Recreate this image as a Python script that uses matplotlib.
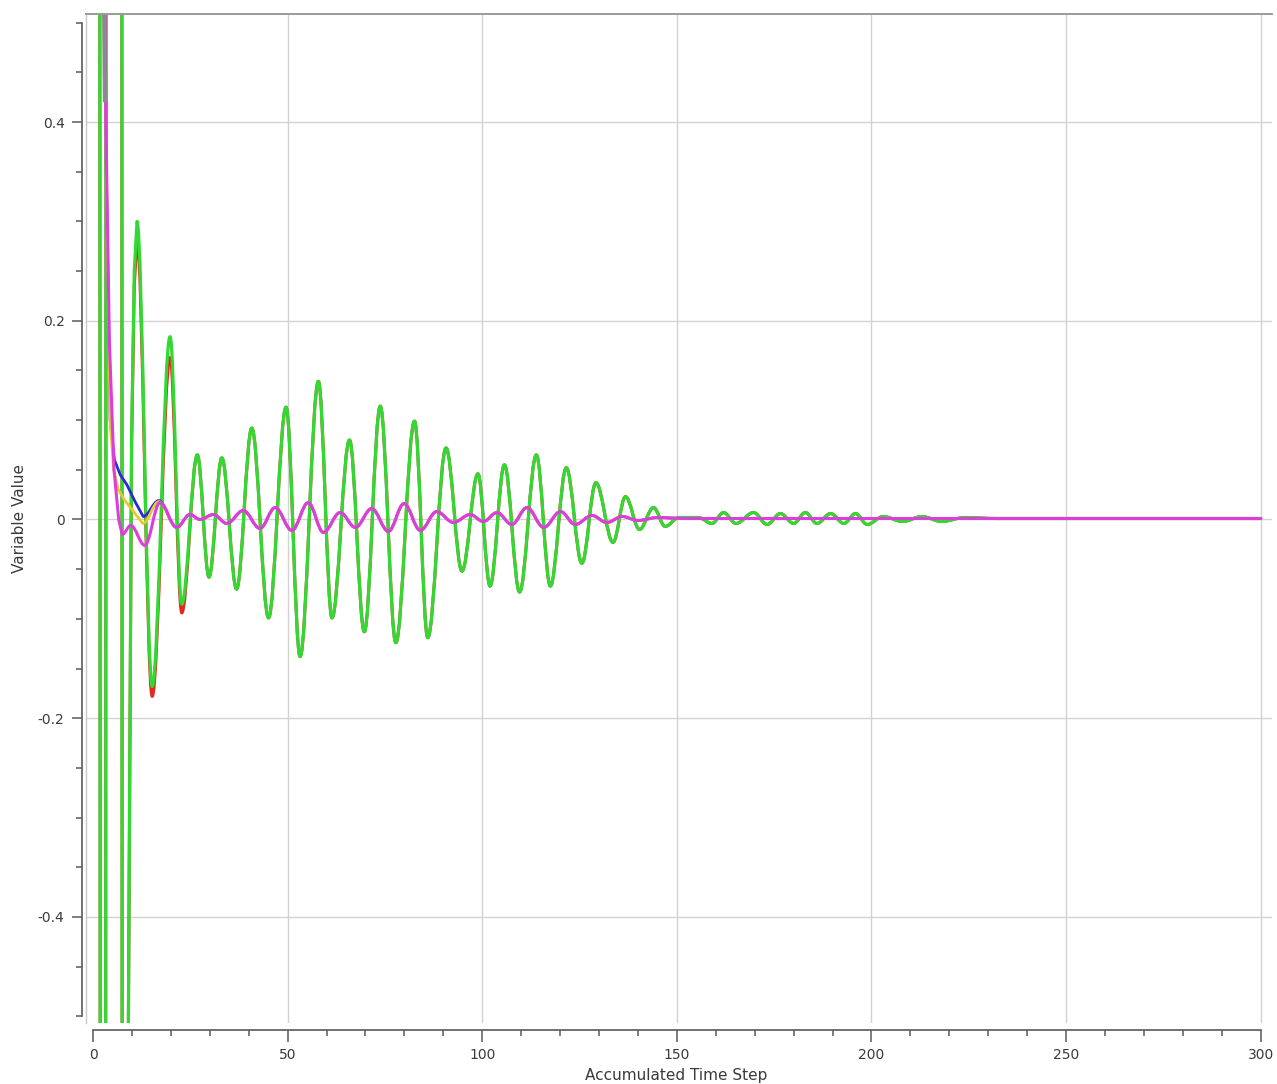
import matplotlib
matplotlib.use("Agg")
import matplotlib.pyplot as plt
from matplotlib.patches import PathPatch
from matplotlib.path import Path
from matplotlib.ticker import MultipleLocator

plt.rcParams["font.family"] = ["DejaVu Sans"]

# Off-scale start-up transient (straight segments) for the two big channels
GREEN_EARLY_T = [0.0, 1.3, 2.3, 2.8, 3.8, 7.1, 7.8, 8.4, 9.1, 9.9, 10.6]
GREEN_EARLY_V = [6.0, 6.0, -6.0, -6.0, 6.0, 6.0, -6.0, -3.0, -0.5, 0.08, 0.25]
RED_EARLY_V = [6.0, 6.0, -6.0, -6.0, 6.0, 6.0, -6.0, -3.0, -0.5, 0.07, 0.235]

# Oscillation extrema of the green channel
GREEN_T = [11.3, 15.2, 19.8, 22.8, 26.8, 29.8, 33.1, 36.9, 40.8, 45.1,
           49.6, 53.2, 57.9, 61.4, 65.9, 69.7, 73.8, 77.8, 82.6, 86.0,
           90.7, 94.8, 98.9, 102.0, 105.7, 109.6, 113.9, 117.5, 121.6, 125.6,
           129.2, 133.6, 136.8, 140.4, 144.0, 147.0, 150.5, 155.5, 159.0, 162.0,
           165.2, 169.7, 173.2, 176.6, 180.0, 183.0, 186.0, 189.5, 192.9, 195.9,
           198.9, 203.0, 208.0, 213.0, 218.0, 224.0, 232.0, 300.0]
GREEN_V = [0.300, -0.168, 0.184, -0.085, 0.065, -0.058, 0.062, -0.070, 0.092, -0.099,
           0.113, -0.138, 0.139, -0.099, 0.080, -0.113, 0.114, -0.124, 0.099, -0.119,
           0.072, -0.052, 0.046, -0.067, 0.055, -0.073, 0.065, -0.067, 0.052, -0.044,
           0.037, -0.023, 0.023, -0.010, 0.012, -0.007, 0.002, 0.002, -0.004, 0.007,
           -0.004, 0.007, -0.005, 0.006, -0.004, 0.007, -0.004, 0.006, -0.004, 0.006,
           -0.005, 0.003, -0.002, 0.003, -0.002, 0.002, 0.001, 0.001]
# red differs from green only over the first few swings
RED_HEAD_V = [0.283, -0.178, 0.163, -0.094]

# Small channels: start-up decay
BLUE_EARLY_T = [0.0, 2.3, 2.85, 3.3, 4.4, 5.5, 6.1, 7.0, 8.7, 10.8]
BLUE_EARLY_V = [6.0, 6.0, 0.7, 0.38, 0.10, 0.06, 0.054, 0.045, 0.035, 0.018]
YELLOW_EARLY_T = [0.0, 2.3, 2.85, 3.3, 4.4, 5.3, 6.5, 8.0, 10.0]
YELLOW_EARLY_V = [6.0, 6.0, 0.7, 0.38, 0.10, 0.05, 0.03, 0.02, 0.01]
MAGENTA_EARLY_T = [0.0, 2.3, 2.8, 3.3, 4.2, 5.4, 6.6]
MAGENTA_EARLY_V = [6.0, 6.0, 0.7, 0.40, 0.18, 0.05, 0.0]

BLUE_HEAD_T = [12.9, 16.9]
BLUE_HEAD_V = [0.003, 0.019]
YELLOW_HEAD_T = [12.8, 16.9]
YELLOW_HEAD_V = [-0.004, 0.018]
MAGENTA_HEAD_T = [7.5, 9.7, 13.3, 17.2]
MAGENTA_HEAD_V = [-0.015, -0.006, -0.026, 0.017]

# Shared small oscillation of blue / yellow / magenta
SMALL_T = [21.5, 24.9, 27.5, 30.9, 34.4, 38.6, 42.9, 46.8, 51.1, 55.3,
           59.2, 63.5, 67.4, 71.6, 75.9, 79.9, 84.1, 88.3, 92.6, 96.9,
           100.3, 103.8, 107.6, 111.5, 115.8, 120.1, 123.9, 128.2, 132.0, 136.0,
           140.0, 145.0, 152.0, 300.0]
SMALL_V = [-0.008, 0.005, 0.000, 0.005, -0.004, 0.009, -0.009, 0.012, -0.011, 0.017,
           -0.013, 0.007, -0.008, 0.011, -0.012, 0.016, -0.011, 0.008, -0.003, 0.005,
           -0.002, 0.007, -0.005, 0.012, -0.008, 0.008, -0.005, 0.004, -0.003, 0.003,
           -0.001, 0.002, 0.001, 0.001]

GRAY_T = [0.0, 2.3, 2.8, 3.1]
GRAY_V = [6.0, 6.0, 0.55, 0.42]

XTICKS = [0, 50, 100, 150, 200, 250, 300]
YTICKS = [-0.4, -0.2, 0.0, 0.2, 0.4]
YTICK_LABELS = ["-0.4", "-0.2", "0", "0.2", "0.4"]


def smooth_path(head_t, head_v, ext_t, ext_v, k=0.36):
    """Straight segments through the head, then cubic arcs with flat tangents at each extremum."""
    verts = [(head_t[0], head_v[0])]
    codes = [Path.MOVETO]
    for t, v in zip(head_t[1:], head_v[1:]):
        verts.append((t, v))
        codes.append(Path.LINETO)
    verts.append((ext_t[0], ext_v[0]))
    codes.append(Path.LINETO)
    for i in range(len(ext_t) - 1):
        t0, v0, t1, v1 = ext_t[i], ext_v[i], ext_t[i + 1], ext_v[i + 1]
        dt = t1 - t0
        verts += [(t0 + k * dt, v0), (t1 - k * dt, v1), (t1, v1)]
        codes += [Path.CURVE4] * 3
    return Path(verts, codes)


def add_trace(ax, path, color, lw):
    ax.add_patch(PathPatch(path, fill=False, edgecolor=color, lw=lw,
                           capstyle="round", joinstyle="round"))


fig = plt.figure(figsize=(12.77, 10.84), dpi=100, facecolor="white")
ax = fig.add_axes([86 / 1277, 1 - 1023 / 1084, (1272 - 86) / 1277, (1023 - 14) / 1084])

ax.set_xlim(-1.8, 302.9)
ax.set_ylim(-0.5067, 0.5087)

for x in XTICKS[1:]:
    ax.axvline(x, color="#d2d2d2", lw=1.0, zorder=0)
for y in YTICKS:
    ax.axhline(y, color="#d2d2d2", lw=1.0, zorder=0)

red_t = GREEN_T
red_v = RED_HEAD_V + GREEN_V[len(RED_HEAD_V):]
add_trace(ax, smooth_path(GREEN_EARLY_T, RED_EARLY_V, red_t, red_v), "#e02a1a", 2.2)
add_trace(ax, smooth_path(GREEN_EARLY_T, GREEN_EARLY_V, GREEN_T, GREEN_V), "#33d933", 2.3)
add_trace(ax, smooth_path(BLUE_EARLY_T, BLUE_EARLY_V, BLUE_HEAD_T + SMALL_T, BLUE_HEAD_V + SMALL_V),
          "#2a2ad8", 2.0)
add_trace(ax, smooth_path(YELLOW_EARLY_T, YELLOW_EARLY_V, YELLOW_HEAD_T + SMALL_T,
                          YELLOW_HEAD_V + SMALL_V), "#e8c830", 2.0)
add_trace(ax, smooth_path(MAGENTA_EARLY_T, MAGENTA_EARLY_V, MAGENTA_HEAD_T + SMALL_T,
                          MAGENTA_HEAD_V + SMALL_V), "#dd3ddd", 2.2)
ax.plot(GRAY_T, GRAY_V, color="#8a8a8a", lw=3.2, solid_capstyle="butt")

# frame and detached axes
ax.spines["right"].set_visible(False)
ax.spines["top"].set_color("#9a9a9a")
ax.spines["top"].set_linewidth(1.4)
ax.spines["left"].set_position(("outward", 3.2))
ax.spines["left"].set_bounds(-0.5, 0.5)
ax.spines["left"].set_color("#5a5a5a")
ax.spines["left"].set_linewidth(1.2)
ax.spines["bottom"].set_position(("outward", 5))
ax.spines["bottom"].set_bounds(0, 300)
ax.spines["bottom"].set_color("#5a5a5a")
ax.spines["bottom"].set_linewidth(1.2)
ax.plot([0, 0], [0, 1], transform=ax.transAxes, color="#c8c8c8", lw=1.0, clip_on=False)

ax.set_xticks(XTICKS)
ax.set_xticklabels([str(x) for x in XTICKS])
ax.set_yticks(YTICKS)
ax.set_yticklabels(YTICK_LABELS)
ax.xaxis.set_minor_locator(MultipleLocator(10))
ax.yaxis.set_minor_locator(MultipleLocator(0.05))
ax.tick_params(axis="x", which="major", length=8.5, width=1.1, color="#5a5a5a",
               labelcolor="#3a3a3a", labelsize=10, pad=4.5)
ax.tick_params(axis="x", which="minor", length=4.3, width=1.1, color="#5a5a5a")
ax.tick_params(axis="y", which="major", length=7.2, width=1.1, color="#5a5a5a",
               labelcolor="#3a3a3a", labelsize=10, pad=5)
ax.tick_params(axis="y", which="minor", length=4.3, width=1.1, color="#5a5a5a")

ax.set_xlabel("Accumulated Time Step", fontsize=11, color="#3a3a3a")
ax.xaxis.set_label_coords(0.4975, -0.0446)
ax.set_ylabel("Variable Value", fontsize=11, color="#3a3a3a")
ax.yaxis.label.set_va("center")
ax.yaxis.set_label_coords(-0.0557, 0.5)

fig.savefig("out.png", dpi=100, facecolor="white")
